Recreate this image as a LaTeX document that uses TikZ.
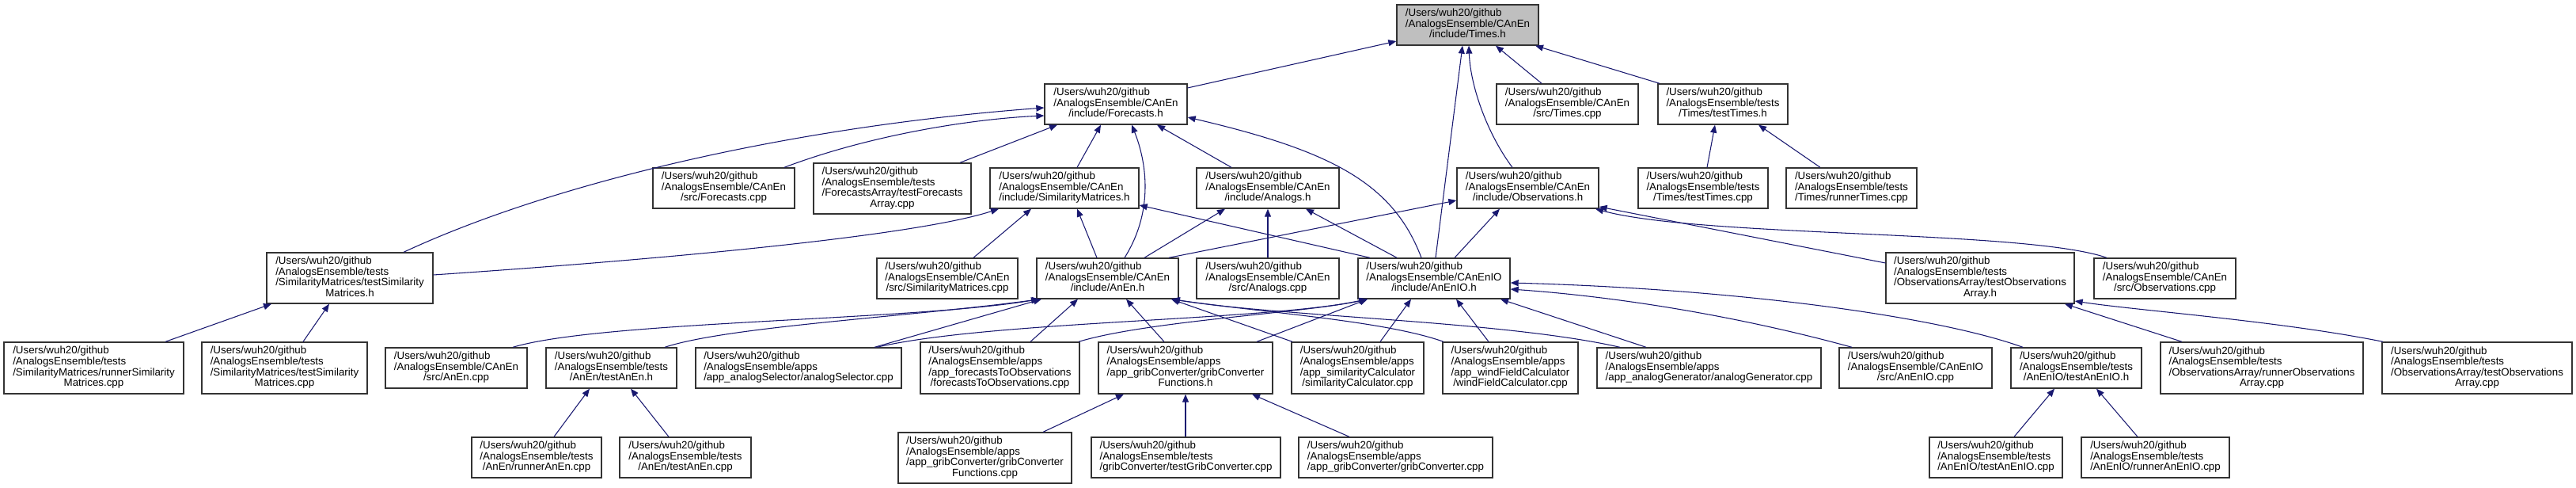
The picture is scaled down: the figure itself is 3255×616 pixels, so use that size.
\documentclass[tikz,border=0pt]{standalone}
\usepackage{fontspec}
\setmainfont{Liberation Sans}
\usetikzlibrary{arrows.meta}
\definecolor{edgeblue}{HTML}{191970}
\definecolor{rootgray}{HTML}{BFBFBF}
\definecolor{boxline}{HTML}{333333}
\newcommand\dxl[2]{\begin{tabular}{@{}l@{}}#1\\\multicolumn{1}{@{}c@{}}{#2}\end{tabular}}
\newcommand\dug{/Users/wuh20/github}
\newcommand\dcan{/AnalogsEnsemble/CAnEn}
\newcommand\dcio{/AnalogsEnsemble/CAnEnIO}
\newcommand\dtst{/AnalogsEnsemble/tests}
\newcommand\dapp{/AnalogsEnsemble/apps}
\newcommand\dbox[7]{\node[dbx,#1,minimum width={0.75pt*(#4-#3)},minimum height={0.75pt*(#6-#5)}] (#2) at ({(#3+#4)/2},{(#5+#6)/2}) {#7};}
\tikzset{
  dbx/.style={draw=boxline, line width=1pt, fill=white, inner sep=0pt,
    font=\fontsize{10}{10}\selectfont},
  dep/.style={draw=edgeblue, line width=0.8pt, -{Triangle[length=7.5pt,width=6pt]}}
}
\begin{document}
\begin{tikzpicture}[x=0.75pt,y=-0.75pt]
\useasboundingbox (0,0) rectangle (3255,616);
% row 1
\dbox{fill=rootgray}{times}{1765}{1944}{6}{57}{\dxl{\dug\\\dcan}{/include/Times.h}}
% row 2
\dbox{}{fc}{1320}{1500}{106}{157}{\dxl{\dug\\\dcan}{/include/Forecasts.h}}
\dbox{}{timescpp}{1891}{2070}{106}{157}{\dxl{\dug\\\dcan}{/src/Times.cpp}}
\dbox{}{testtimesh}{2095}{2259}{106}{157}{\dxl{\dug\\\dtst}{/Times/testTimes.h}}
% row 3
\dbox{}{fccpp}{825}{1004}{212}{263}{\dxl{\dug\\\dcan}{/src/Forecasts.cpp}}
\dbox{}{tfa}{1028}{1227}{206}{270}{\dxl{\dug\\\dtst\\/ForecastsArray/testForecasts}{Array.cpp}}
\dbox{}{smh}{1251}{1439}{212}{263}{\dxl{\dug\\\dcan}{/include/SimilarityMatrices.h}}
\dbox{}{anh}{1512}{1692}{212}{263}{\dxl{\dug\\\dcan}{/include/Analogs.h}}
\dbox{}{obsh}{1841}{2020}{212}{263}{\dxl{\dug\\\dcan}{/include/Observations.h}}
\dbox{}{ttcpp}{2070}{2234}{212}{263}{\dxl{\dug\\\dtst}{/Times/testTimes.cpp}}
\dbox{}{rtcpp}{2257}{2422}{212}{263}{\dxl{\dug\\\dtst}{/Times/runnerTimes.cpp}}
% row 4
\dbox{}{tsmh}{337}{547}{319}{383}{\dxl{\dug\\\dtst\\/SimilarityMatrices/testSimilarity}{Matrices.h}}
\dbox{}{smcpp}{1108}{1286}{326}{377}{\dxl{\dug\\\dcan}{/src/SimilarityMatrices.cpp}}
\dbox{}{anenh}{1310}{1489}{326}{377}{\dxl{\dug\\\dcan}{/include/AnEn.h}}
\dbox{}{ancpp}{1512}{1692}{326}{377}{\dxl{\dug\\\dcan}{/src/Analogs.cpp}}
\dbox{}{anenioh}{1716}{1908}{326}{377}{\dxl{\dug\\\dcio}{/include/AnEnIO.h}}
\dbox{}{toah}{2383}{2621}{319}{383}{\dxl{\dug\\\dtst\\/ObservationsArray/testObservations}{Array.h}}
\dbox{}{obscpp}{2646}{2825}{326}{377}{\dxl{\dug\\\dcan}{/src/Observations.cpp}}
% row 5
\dbox{}{rsmcpp}{5}{232}{432}{497}{\dxl{\dug\\\dtst\\/SimilarityMatrices/runnerSimilarity}{Matrices.cpp}}
\dbox{}{tsmcpp}{255}{464}{432}{497}{\dxl{\dug\\\dtst\\/SimilarityMatrices/testSimilarity}{Matrices.cpp}}
\dbox{}{anencpp}{487}{666}{439}{490}{\dxl{\dug\\\dcan}{/src/AnEn.cpp}}
\dbox{}{testanenh}{690}{855}{439}{490}{\dxl{\dug\\\dtst}{/AnEn/testAnEn.h}}
\dbox{}{asel}{879}{1139}{439}{490}{\dxl{\dug\\\dapp}{/app\_analogSelector/analogSelector.cpp}}
\dbox{}{f2o}{1163}{1364}{432}{497}{\dxl{\dug\\\dapp\\/app\_forecastsToObservations}{/forecastsToObservations.cpp}}
\dbox{}{gcfh}{1388}{1608}{432}{497}{\dxl{\dug\\\dapp\\/app\_gribConverter/gribConverter}{Functions.h}}
\dbox{}{simcalc}{1632}{1799}{432}{497}{\dxl{\dug\\\dapp\\/app\_similarityCalculator}{/similarityCalculator.cpp}}
\dbox{}{wind}{1823}{1994}{432}{497}{\dxl{\dug\\\dapp\\/app\_windFieldCalculator}{/windFieldCalculator.cpp}}
\dbox{}{agen}{2018}{2301}{439}{490}{\dxl{\dug\\\dapp}{/app\_analogGenerator/analogGenerator.cpp}}
\dbox{}{aniocpp}{2324}{2517}{439}{490}{\dxl{\dug\\\dcio}{/src/AnEnIO.cpp}}
\dbox{}{tanioh}{2541}{2706}{439}{490}{\dxl{\dug\\\dtst}{/AnEnIO/testAnEnIO.h}}
\dbox{}{roacpp}{2730}{2986}{432}{497}{\dxl{\dug\\\dtst\\/ObservationsArray/runnerObservations}{Array.cpp}}
\dbox{}{toacpp}{3010}{3250}{432}{497}{\dxl{\dug\\\dtst\\/ObservationsArray/testObservations}{Array.cpp}}
% row 6
\dbox{}{ranencpp}{596}{760}{552}{603}{\dxl{\dug\\\dtst}{/AnEn/runnerAnEn.cpp}}
\dbox{}{tanencpp}{783}{949}{552}{603}{\dxl{\dug\\\dtst}{/AnEn/testAnEn.cpp}}
\dbox{}{gcfcpp}{1135}{1354}{546}{610}{\dxl{\dug\\\dapp\\/app\_gribConverter/gribConverter}{Functions.cpp}}
\dbox{}{tgccpp}{1379}{1618}{552}{603}{\dxl{\dug\\\dtst}{/gribConverter/testGribConverter.cpp}}
\dbox{}{gccpp}{1641}{1886}{552}{603}{\dxl{\dug\\\dapp}{/app\_gribConverter/gribConverter.cpp}}
\dbox{}{taniocpp}{2438}{2606}{552}{603}{\dxl{\dug\\\dtst}{/AnEnIO/testAnEnIO.cpp}}
\dbox{}{raniocpp}{2630}{2817}{552}{603}{\dxl{\dug\\\dtst}{/AnEnIO/runnerAnEnIO.cpp}}
% edges to Times.h
\draw[dep] (fc.east |- 0,111) -- (times.west |- 0,52);
\draw[dep] (timescpp.north -| 1948,0) -- (times.south -| 1890,0);
\draw[dep] (testtimesh.north -| 2097,0) -- (times.south -| 1940,0);
\draw[dep] (obsh.north -| 1911,0) .. controls (1880,170) and (1858,110) .. (times.south -| 1856,0);
\draw[dep] (anenioh.north -| 1814,0) -- (times.south -| 1848,0);
% edges to Forecasts.h
\draw[dep] (tsmh.north -| 510,0) .. controls (700,230) and (1000,160) .. (fc.west |- 0,136);
\draw[dep] (fccpp.north -| 991,0) .. controls (1100,170) and (1230,150) .. (fc.west |- 0,146);
\draw[dep] (tfa.north -| 1213,0) -- (fc.south -| 1336,0);
\draw[dep] (smh.north -| 1361,0) -- (fc.south -| 1391,0);
\draw[dep] (anenh.north -| 1421,0) .. controls (1462,260) and (1445,195) .. (fc.south -| 1430,0);
\draw[dep] (anh.north -| 1556,0) -- (fc.south -| 1462,0);
\draw[dep] (anenioh.north -| 1796,0) .. controls (1760,230) and (1680,190) .. (fc.east |- 0,148);
% edges to SimilarityMatrices.h, Analogs.h, Observations.h
\draw[dep] (tsmh.east |- 0,347) .. controls (800,330) and (1150,300) .. (smh.south -| 1262,0);
\draw[dep] (smcpp.north -| 1230,0) -- (smh.south -| 1303,0);
\draw[dep] (anenh.north -| 1386,0) -- (smh.south -| 1361,0);
\draw[dep] (anenioh.north -| 1731,0) -- (smh.east |- 0,259);
\draw[dep] (anenh.north -| 1446,0) -- (anh.south -| 1548,0);
\draw[dep] (ancpp.north -| 1602,0) -- (anh.south -| 1602,0);
\draw[dep] (anenioh.north -| 1765,0) -- (anh.south -| 1650,0);
\draw[dep] (anenh.north -| 1477,0) -- (obsh.west |- 0,253);
\draw[dep] (anenioh.north -| 1838,0) -- (obsh.south -| 1895,0);
\draw[dep] (toah.west |- 0,332) -- (obsh.east |- 0,261);
\draw[dep] (obscpp.north -| 2662,0) .. controls (2560,290) and (2150,300) .. (obsh.south -| 2016,0);
% edges to testTimes.h
\draw[dep] (ttcpp.north -| 2157,0) -- (testtimesh.south -| 2167,0);
\draw[dep] (rtcpp.north -| 2300,0) -- (testtimesh.south -| 2222,0);
% edges to testSimilarityMatrices.h
\draw[dep] (rsmcpp.north -| 209,0) -- (tsmh.south -| 343,0);
\draw[dep] (tsmcpp.north -| 383,0) -- (tsmh.south -| 416,0);
% edges to AnEn.h and AnEnIO.h
\draw[dep] (anencpp.north -| 648,0) .. controls (760,405) and (1150,405) .. (anenh.south -| 1313,0);
\draw[dep] (testanenh.north -| 840,0) .. controls (920,412) and (1150,400) .. (anenh.south -| 1314,0);
\draw[dep] (asel.north -| 1105,0) -- (anenh.south -| 1316,0);
\draw[dep] (asel.north -| 1108,0) .. controls (1250,405) and (1600,405) .. (anenioh.south -| 1727,0);
\draw[dep] (f2o.north -| 1302,0) -- (anenh.south -| 1362,0);
\draw[dep] (f2o.north -| 1363,0) .. controls (1450,405) and (1650,395) .. (anenioh.south -| 1728,0);
\draw[dep] (gcfh.north -| 1471,0) -- (anenh.south -| 1423,0);
\draw[dep] (gcfh.north -| 1588,0) -- (anenioh.south -| 1728,0);
\draw[dep] (simcalc.north -| 1633,0) -- (anenh.south -| 1480,0);
\draw[dep] (simcalc.north -| 1744,0) -- (anenioh.south -| 1783,0);
\draw[dep] (wind.north -| 1824,0) .. controls (1750,405) and (1600,395) .. (anenh.south -| 1480,0);
\draw[dep] (wind.north -| 1881,0) -- (anenioh.south -| 1840,0);
\draw[dep] (agen.north -| 2047,0) .. controls (1900,405) and (1620,400) .. (anenh.south -| 1481,0);
\draw[dep] (agen.north -| 2080,0) -- (anenioh.south -| 1896,0);
\draw[dep] (aniocpp.north -| 2340,0) .. controls (2200,400) and (2050,375) .. (anenioh.east |- 0,365);
\draw[dep] (tanioh.north -| 2556,0) .. controls (2450,400) and (2200,365) .. (anenioh.east |- 0,357);
% edges to testObservationsArray.h
\draw[dep] (roacpp.north -| 2757,0) -- (toah.south -| 2609,0);
\draw[dep] (toacpp.north -| 3011,0) .. controls (2880,405) and (2700,392) .. (toah.east |- 0,380);
% bottom row edges
\draw[dep] (ranencpp.north -| 700,0) -- (testanenh.south -| 745,0);
\draw[dep] (tanencpp.north -| 845,0) -- (testanenh.south -| 797,0);
\draw[dep] (gcfcpp.north -| 1318,0) -- (gcfh.south -| 1420,0);
\draw[dep] (tgccpp.north -| 1498,0) -- (gcfh.south -| 1498,0);
\draw[dep] (gccpp.north -| 1705,0) -- (gcfh.south -| 1582,0);
\draw[dep] (taniocpp.north -| 2545,0) -- (tanioh.south -| 2596,0);
\draw[dep] (raniocpp.north -| 2701,0) -- (tanioh.south -| 2649,0);
\end{tikzpicture}
\end{document}
